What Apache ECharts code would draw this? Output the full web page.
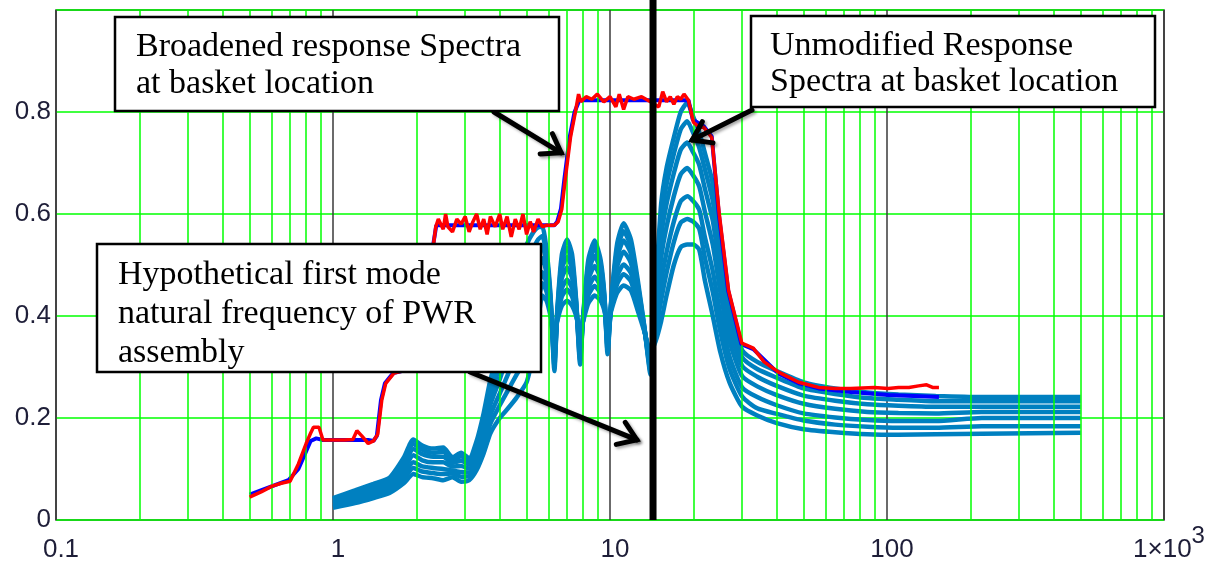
<!DOCTYPE html>
<html>
<head>
<meta charset="utf-8">
<script src="https://cdn.jsdelivr.net/npm/echarts@6/dist/echarts.min.js"></script>
<style>html,body{margin:0;padding:0;background:#fff;}#c{width:1211px;height:571px;}</style>
</head>
<body>
<div id="c"></div>
<script>
// ---------- data ----------
const xTickLabels = ['0.1', '1', '10', '100', '1×10³'];
const yTickLabels = ['0', '0.2', '0.4', '0.6', '0.8', ''];
const minorGridFreqs = [0.2,0.3,0.4,0.5,0.6,0.7,0.8,0.9,2,3,4,5,6,7,8,9,20,30,40,50,60,70,80,90,200,300,400,500,600,700,800,900];
const modeFreq = [14.3];

const sbFreq = [1.0,1.2,1.4,1.6,1.8,1.95,2.1,2.3,2.5,2.7, 2.9,3.1,3.3,3.5,3.7,4.0,4.3,4.6,5.0,5.3, 5.5,5.7,5.9,6.1,6.3,6.45,6.7,7.0,7.3,7.55, 7.8,8.0,8.35,8.8,9.25,9.55,9.8,10.1,10.6,11.2, 11.9,12.6,13.3,14.0,14.6,15.3,16.0,17.0,18.0,19.0, 20.0,21.0,22.0,23.5,25,27,30,34,40,50, 65,85,110,150,220,330,500];
const sb1 = [0.043,0.058,0.071,0.083,0.122,0.158,0.146,0.140,0.142,0.123, 0.132,0.121,0.155,0.210,0.275,0.340,0.420,0.490,0.540,0.565, 0.574,0.575,0.530,0.440,0.292,0.410,0.520,0.550,0.520,0.430, 0.305,0.400,0.510,0.548,0.510,0.440,0.325,0.430,0.540,0.582, 0.550,0.470,0.380,0.285,0.450,0.620,0.690,0.750,0.800,0.818, 0.790,0.760,0.720,0.660,0.550,0.420,0.333,0.310,0.292,0.270, 0.258,0.250,0.246,0.243,0.241,0.241,0.241];
const sb2 = [0.041,0.055,0.067,0.079,0.116,0.149,0.138,0.132,0.134,0.118, 0.125,0.115,0.148,0.200,0.261,0.322,0.394,0.458,0.505,0.534, 0.550,0.557,0.517,0.435,0.301,0.407,0.507,0.534,0.507,0.426, 0.313,0.399,0.499,0.534,0.500,0.436,0.332,0.427,0.528,0.566, 0.537,0.462,0.379,0.291,0.437,0.590,0.658,0.718,0.766,0.782, 0.758,0.730,0.688,0.626,0.521,0.401,0.319,0.296,0.279,0.258, 0.247,0.239,0.236,0.233,0.233,0.233,0.233];
const sb3 = [0.038,0.051,0.063,0.075,0.108,0.139,0.129,0.124,0.124,0.112, 0.116,0.109,0.139,0.188,0.246,0.301,0.364,0.420,0.464,0.499, 0.522,0.537,0.502,0.429,0.311,0.404,0.492,0.516,0.492,0.422, 0.323,0.397,0.486,0.518,0.488,0.432,0.340,0.424,0.513,0.548, 0.522,0.453,0.377,0.298,0.422,0.556,0.620,0.680,0.726,0.740, 0.720,0.696,0.650,0.587,0.488,0.378,0.302,0.281,0.263,0.244, 0.234,0.227,0.224,0.222,0.222,0.222,0.222];
const sb4 = [0.034,0.047,0.058,0.069,0.099,0.127,0.117,0.113,0.113,0.105, 0.106,0.101,0.129,0.174,0.227,0.276,0.328,0.375,0.416,0.457, 0.489,0.513,0.484,0.422,0.323,0.401,0.474,0.495,0.474,0.416, 0.335,0.395,0.471,0.498,0.473,0.426,0.350,0.421,0.496,0.526, 0.504,0.442,0.375,0.306,0.404,0.514,0.575,0.635,0.678,0.690, 0.675,0.654,0.605,0.540,0.449,0.351,0.282,0.262,0.245,0.228, 0.218,0.212,0.210,0.209,0.212,0.212,0.212];
const sb5 = [0.031,0.042,0.053,0.063,0.089,0.113,0.105,0.102,0.100,0.097, 0.094,0.093,0.117,0.158,0.206,0.248,0.288,0.325,0.362,0.410, 0.453,0.486,0.464,0.414,0.337,0.397,0.454,0.471,0.454,0.410, 0.348,0.393,0.454,0.477,0.457,0.420,0.361,0.417,0.477,0.501, 0.484,0.430,0.373,0.315,0.384,0.468,0.525,0.585,0.625,0.635, 0.625,0.608,0.555,0.488,0.405,0.321,0.260,0.241,0.225,0.209, 0.201,0.196,0.194,0.194,0.200,0.200,0.200];
const sb6 = [0.027,0.037,0.048,0.058,0.081,0.102,0.095,0.092,0.090,0.091, 0.085,0.086,0.108,0.145,0.189,0.225,0.256,0.285,0.319,0.372, 0.423,0.464,0.448,0.407,0.348,0.394,0.438,0.452,0.438,0.405, 0.358,0.392,0.440,0.459,0.444,0.415,0.370,0.414,0.462,0.482, 0.468,0.421,0.372,0.322,0.368,0.431,0.485,0.545,0.583,0.590, 0.585,0.571,0.515,0.447,0.370,0.297,0.242,0.219,0.208,0.195, 0.187,0.183,0.181,0.181,0.184,0.184,0.184];
const sb7 = [0.024,0.033,0.043,0.053,0.072,0.090,0.084,0.082,0.078,0.084, 0.075,0.078,0.098,0.131,0.170,0.200,0.220,0.240,0.270,0.330, 0.390,0.440,0.430,0.400,0.360,0.390,0.420,0.430,0.420,0.400, 0.370,0.390,0.425,0.440,0.430,0.410,0.380,0.410,0.445,0.460, 0.450,0.410,0.370,0.330,0.350,0.390,0.440,0.500,0.535,0.540, 0.540,0.530,0.470,0.400,0.330,0.270,0.222,0.205,0.190,0.178, 0.172,0.168,0.167,0.168,0.169,0.170,0.171];
const unmodifiedSpectra = [sb1, sb2, sb3, sb4, sb5, sb6, sb7];

const redSpectrum = [[0.5,0.045],[0.55,0.055],[0.6,0.066],[0.65,0.072],[0.7,0.076],[0.75,0.11],[0.8,0.15],[0.83,0.17],[0.85,0.182],[0.89,0.182],[0.92,0.157],[1.0,0.157],[1.1,0.157],[1.18,0.158],[1.22,0.175],[1.27,0.165],[1.34,0.15],[1.4,0.155],[1.45,0.168],[1.5,0.235],[1.55,0.268],[1.66,0.288],[1.84,0.294],[2.0,0.30],[2.2,0.31],[2.28,0.52],[2.35,0.575],[2.4,0.59],[2.5,0.57],[2.55,0.60],[2.6,0.575],[2.7,0.565],[2.8,0.59],[2.9,0.58],[3.0,0.595],[3.1,0.565],[3.2,0.585],[3.3,0.6],[3.4,0.57],[3.5,0.59],[3.6,0.56],[3.7,0.595],[3.85,0.575],[4.0,0.6],[4.1,0.57],[4.25,0.595],[4.4,0.555],[4.55,0.59],[4.7,0.57],[4.85,0.6],[5.0,0.56],[5.15,0.585],[5.3,0.565],[5.5,0.59],[5.7,0.575],[5.9,0.578],[6.3,0.578],[6.5,0.585],[6.7,0.61],[6.9,0.67],[7.2,0.75],[7.5,0.80],[7.7,0.835],[7.85,0.82],[8.2,0.83],[8.6,0.825],[9.0,0.835],[9.5,0.82],[10.0,0.83],[10.5,0.81],[10.8,0.835],[11.2,0.805],[11.6,0.83],[12.2,0.825],[13.0,0.83],[14.0,0.82],[15.0,0.81],[15.5,0.84],[16.0,0.82],[16.5,0.83],[17.0,0.815],[17.5,0.83],[18.0,0.825],[18.5,0.835],[19.2,0.823],[20.0,0.78],[21.0,0.77],[21.8,0.77],[23.3,0.75],[24.8,0.6],[26.8,0.45],[29.9,0.347],[32.9,0.337],[36,0.31],[40.6,0.29],[48,0.27],[56.6,0.26],[65,0.258],[74,0.258],[90,0.26],[101,0.258],[110,0.26],[120,0.26],[130,0.263],[139,0.265],[146,0.26],[154,0.26]];
const blueSpectrum = [[0.5,0.05],[0.6,0.066],[0.69,0.078],[0.75,0.1],[0.8,0.135],[0.83,0.155],[0.87,0.16],[0.92,0.157],[1.34,0.157],[1.4,0.155],[1.44,0.165],[1.49,0.235],[1.54,0.268],[1.65,0.288],[1.84,0.294],[2.2,0.31],[2.27,0.52],[2.36,0.578],[6.3,0.578],[6.45,0.585],[6.65,0.61],[6.85,0.67],[7.15,0.75],[7.45,0.80],[7.75,0.823],[19.2,0.823],[19.9,0.785],[21.8,0.772],[23.3,0.752],[24.7,0.6],[26.7,0.45],[29.8,0.345],[32.9,0.335],[40.6,0.287],[48,0.268],[56.6,0.258],[74,0.251],[101,0.245],[154,0.241]];

// annotation boxes (layout) and arrow tips (data coords)
const boxes = [
  {x:115, y:17, w:444, h:94, tx:136, ty:29, lh:37, text:'Broadened response Spectra\nat basket location', clipY:null},
  {x:751, y:16, w:404, h:91, tx:770, ty:28, lh:36, text:'Unmodified Response\nSpectra at basket location', clipY:null},
  {x:97, y:244, w:444, h:128, tx:118, ty:256, lh:39, text:'Hypothetical first mode\nnatural frequency of PWR\nassembly', clipY:369}
];
const arrowTails = [[494,112],[752,110],[470,372]];
const arrowTips = [[6.66,0.72],[19.8,0.745],[12.5,0.157]];

// ---------- chart ----------
const chart = echarts.init(document.getElementById('c'));
const labelColor = '#1e1e38';
const sans = '"Liberation Sans", Arial, sans-serif';

const series = [];
series.push({
  type:'line', data:[], silent:true, z:1,
  markLine:{silent:true, symbol:['none','none'], label:{show:false}, animation:false,
    lineStyle:{color:'#00ff00', width:1.5, type:'solid'},
    data: minorGridFreqs.map(f => ({xAxis:f}))}
});
unmodifiedSpectra.forEach(arr => {
  series.push({type:'line', data: sbFreq.map((f,i)=>[f, arr[i]]), showSymbol:false, smooth:0.2,
    lineStyle:{color:'#0080c0', width:4.5}, z:3, silent:true});
});
series.push({type:'line', data: blueSpectrum, showSymbol:false, lineStyle:{color:'#0000ff', width:4}, z:4, silent:true});
series.push({type:'line', data: redSpectrum, showSymbol:false, lineStyle:{color:'#ff0000', width:3.5}, z:5, silent:true});
series.push({type:'custom', z:6, silent:true, clip:false,
  data: modeFreq.map(f => [f, 0]),
  renderItem: function(params, api){
    const p = api.coord([api.value(0), 0]);
    return {type:'line', shape:{x1:p[0], y1:p[1], x2:p[0], y2:0}, style:{stroke:'#000', lineWidth:7}};
  }
});

chart.setOption({
  animation:false,
  grid:{left:56, right:47, top:10, bottom:51, show:true, borderColor:'#333', borderWidth:1.5, backgroundColor:'#fff'},
  xAxis:{type:'log', logBase:10, min:0.1, max:1000,
    axisLine:{show:false}, axisTick:{show:false},
    splitLine:{show:true, lineStyle:{color:'#3a3a3a', width:1.5}},
    axisLabel:{margin:10, color:labelColor, fontSize:26, fontFamily:sans, padding:[0,0,0,10],
      formatter: v => {
        const s = xTickLabels[Math.round(Math.log10(v)) + 1] || '';
        return s.indexOf('³') >= 0 ? '{m|' + s.replace('³','') + '}{s|3}' : '{m|' + s + '}';
      },
      rich:{
        m:{fontSize:26, lineHeight:26, fontFamily:sans, color:labelColor, padding:[13,0,0,0]},
        s:{fontSize:24, lineHeight:26, fontFamily:sans, color:labelColor, padding:[0,0,13,0]}
      }
    }
  },
  yAxis:{type:'value', min:0, max:1, interval:0.2,
    axisLine:{show:false}, axisTick:{show:false},
    splitLine:{show:true, lineStyle:{color:'#00ff00', width:1.5}},
    axisLabel:{margin:5, color:labelColor, fontSize:26, fontFamily:sans,
      formatter: v => yTickLabels[Math.round(v/0.2)] }
  },
  series: series
});

// annotations
const graphics = [];
arrowTails.forEach((t, i) => {
  const tip = chart.convertToPixel({gridIndex:0}, arrowTips[i]);
  const ang = Math.atan2(tip[1]-t[1], tip[0]-t[0]);
  const L = 21, a = 0.6;
  const h1 = [tip[0] - L*Math.cos(ang - a), tip[1] - L*Math.sin(ang - a)];
  const h2 = [tip[0] - L*Math.cos(ang + a), tip[1] - L*Math.sin(ang + a)];
  const st = {stroke:'#000', lineWidth:5, lineCap:'round', lineJoin:'miter', shadowBlur:3, shadowColor:'rgba(0,0,0,0.35)', shadowOffsetX:2, shadowOffsetY:2};
  graphics.push({type:'line', z:100, silent:true, shape:{x1:t[0], y1:t[1], x2:tip[0], y2:tip[1]}, style:st});
  graphics.push({type:'polyline', z:100, silent:true, shape:{points:[h1, tip, h2]}, style:st});
});
boxes.forEach(b => {
  graphics.push({type:'rect', z:110, silent:true, shape:{x:b.x, y:b.y, width:b.w, height:b.h}, style:{fill:'#fff', stroke:null}});
  graphics.push({type:'text', z:111, silent:true, x:b.tx, y:b.ty, style:{text:b.text, fontSize:34, fontFamily:'"Liberation Serif", "DejaVu Serif", serif', fill:'#000', lineHeight:b.lh, verticalAlign:'top', align:'left'}});
  if (b.clipY !== null) {
    graphics.push({type:'rect', z:112, silent:true, shape:{x:b.x+2, y:b.clipY, width:b.w-4, height:b.y+b.h-b.clipY}, style:{fill:'#fff'}});
  }
  graphics.push({type:'rect', z:113, silent:true, shape:{x:b.x, y:b.y, width:b.w, height:b.h}, style:{fill:null, stroke:'#000', lineWidth:2.5}});
});
chart.setOption({graphic: graphics});
</script>
</body>
</html>
